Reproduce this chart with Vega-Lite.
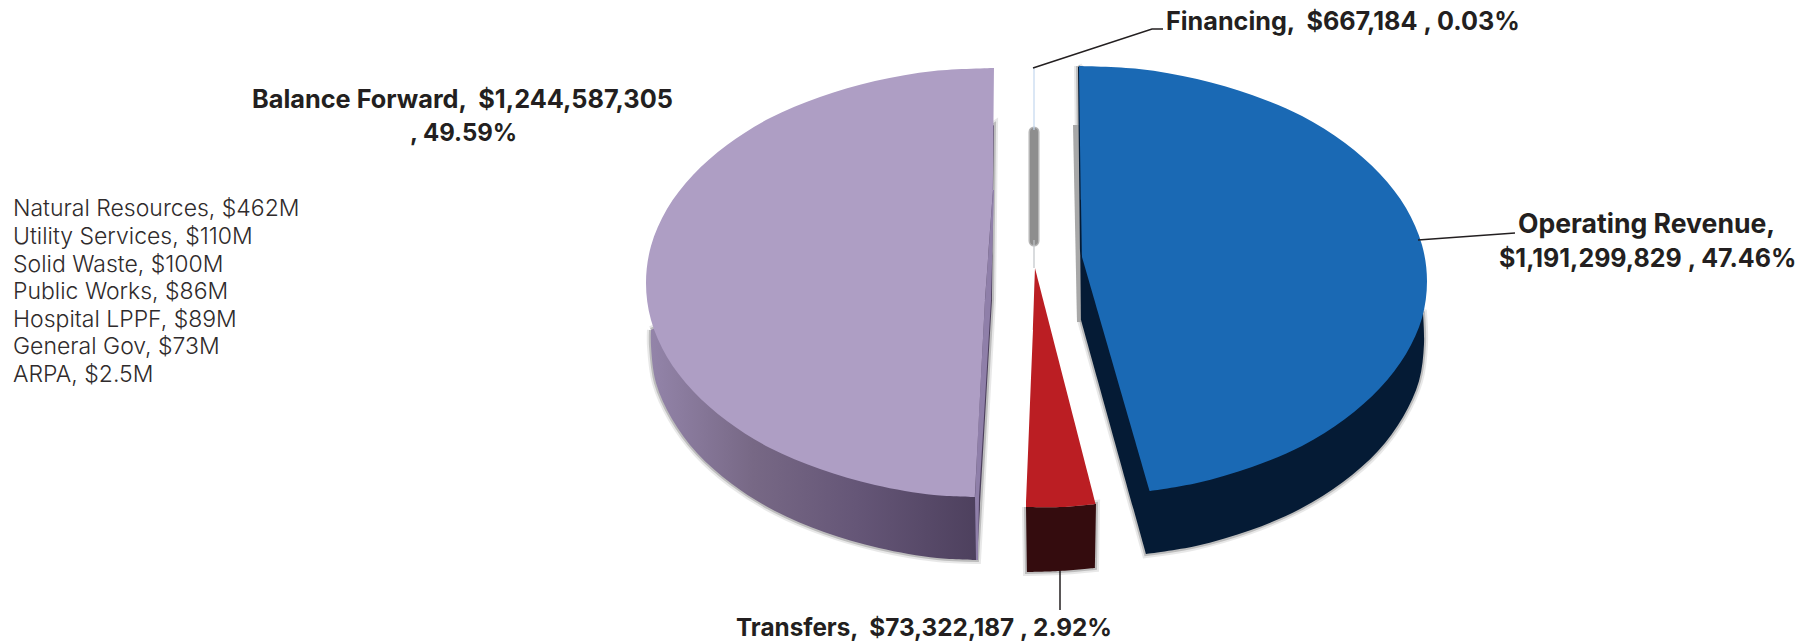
{"$schema":"https://vega.github.io/schema/vega-lite/v6.json","width":1809,"height":642,"padding":0,"autosize":{"type":"fit","contains":"padding"},"background":"white","view":{"stroke":null},
"datasets":{"shapes":[
{"p":"pside","i":1,"x":651,"y":330},{"p":"pside","i":2,"x":651,"y":330},{"p":"pside","i":3,"x":651,"y":346},{"p":"pside","i":4,"x":656,"y":383},{"p":"pside","i":5,"x":672,"y":419},{"p":"pside","i":6,"x":697,"y":453},{"p":"pside","i":7,"x":732,"y":484},{"p":"pside","i":8,"x":775,"y":511},{"p":"pside","i":9,"x":824,"y":532},{"p":"pside","i":10,"x":879,"y":548},{"p":"pside","i":11,"x":937,"y":558},{"p":"pside","i":12,"x":977,"y":560},{"p":"pside","i":13,"x":977,"y":560},{"p":"pside","i":14,"x":992,"y":300},{"p":"pside","i":15,"x":992,"y":300},{"p":"pside","i":16,"x":994,"y":125},{"p":"pside","i":17,"x":994,"y":125},{"p":"pside","i":18,"x":800,"y":250},{"p":"pside","i":19,"x":651,"y":330},
{"p":"pstrip","i":1,"x":993,"y":190},{"p":"pstrip","i":2,"x":985,"y":300},{"p":"pstrip","i":3,"x":978,"y":433},{"p":"pstrip","i":4,"x":975,"y":497},{"p":"pstrip","i":5,"x":976,"y":560},{"p":"pstrip","i":6,"x":978,"y":560},{"p":"pstrip","i":7,"x":979,"y":497},{"p":"pstrip","i":8,"x":983,"y":433},{"p":"pstrip","i":9,"x":991,"y":300},{"p":"pstrip","i":10,"x":994,"y":190},
{"p":"ptop","i":1,"x":994,"y":68},{"p":"ptop","i":2,"x":994,"y":68},{"p":"ptop","i":3,"x":934,"y":71},{"p":"ptop","i":4,"x":875,"y":81},{"p":"ptop","i":5,"x":820,"y":97},{"p":"ptop","i":6,"x":770,"y":118},{"p":"ptop","i":7,"x":727,"y":145},{"p":"ptop","i":8,"x":693,"y":175},{"p":"ptop","i":9,"x":667,"y":209},{"p":"ptop","i":10,"x":651,"y":246},{"p":"ptop","i":11,"x":646,"y":283},{"p":"ptop","i":12,"x":651,"y":320},{"p":"ptop","i":13,"x":667,"y":357},{"p":"ptop","i":14,"x":693,"y":391},{"p":"ptop","i":15,"x":727,"y":421},{"p":"ptop","i":16,"x":770,"y":448},{"p":"ptop","i":17,"x":820,"y":469},{"p":"ptop","i":18,"x":875,"y":485},{"p":"ptop","i":19,"x":934,"y":495},{"p":"ptop","i":20,"x":975,"y":497},{"p":"ptop","i":21,"x":975,"y":497},{"p":"ptop","i":22,"x":985,"y":300},{"p":"ptop","i":23,"x":985,"y":300},{"p":"ptop","i":24,"x":993,"y":190},{"p":"ptop","i":25,"x":993,"y":190},{"p":"ptop","i":26,"x":994,"y":68},{"p":"ptop","i":27,"x":994,"y":68},
{"p":"bside","i":1,"x":1078,"y":66},{"p":"bside","i":2,"x":1078,"y":66},{"p":"bside","i":3,"x":1081,"y":320},{"p":"bside","i":4,"x":1081,"y":320},{"p":"bside","i":5,"x":1146,"y":554},{"p":"bside","i":6,"x":1146,"y":554},{"p":"bside","i":7,"x":1196,"y":546},{"p":"bside","i":8,"x":1251,"y":530},{"p":"bside","i":9,"x":1300,"y":509},{"p":"bside","i":10,"x":1343,"y":482},{"p":"bside","i":11,"x":1378,"y":451},{"p":"bside","i":12,"x":1403,"y":417},{"p":"bside","i":13,"x":1419,"y":381},{"p":"bside","i":14,"x":1424,"y":344},{"p":"bside","i":15,"x":1423,"y":313},{"p":"bside","i":16,"x":1423,"y":313},{"p":"bside","i":17,"x":1250,"y":250},{"p":"bside","i":18,"x":1078,"y":66},
{"p":"btop","i":1,"x":1078,"y":66},{"p":"btop","i":2,"x":1078,"y":66},{"p":"btop","i":3,"x":1139,"y":69},{"p":"btop","i":4,"x":1197,"y":79},{"p":"btop","i":5,"x":1252,"y":95},{"p":"btop","i":6,"x":1302,"y":116},{"p":"btop","i":7,"x":1345,"y":143},{"p":"btop","i":8,"x":1380,"y":174},{"p":"btop","i":9,"x":1406,"y":208},{"p":"btop","i":10,"x":1422,"y":245},{"p":"btop","i":11,"x":1427,"y":281},{"p":"btop","i":12,"x":1422,"y":318},{"p":"btop","i":13,"x":1406,"y":354},{"p":"btop","i":14,"x":1380,"y":388},{"p":"btop","i":15,"x":1345,"y":419},{"p":"btop","i":16,"x":1302,"y":446},{"p":"btop","i":17,"x":1252,"y":467},{"p":"btop","i":18,"x":1197,"y":483},{"p":"btop","i":19,"x":1150,"y":491},{"p":"btop","i":20,"x":1150,"y":491},{"p":"btop","i":21,"x":1082,"y":257},{"p":"btop","i":22,"x":1082,"y":257},{"p":"btop","i":23,"x":1081,"y":200},{"p":"btop","i":24,"x":1081,"y":200},{"p":"btop","i":25,"x":1079,"y":66},{"p":"btop","i":26,"x":1079,"y":66},
{"p":"bshade","i":1,"x":1073,"y":125},{"p":"bshade","i":2,"x":1079,"y":125},{"p":"bshade","i":3,"x":1081,"y":322},{"p":"bshade","i":4,"x":1077,"y":322},{"p":"bshade","i":5,"x":1073,"y":125},
{"p":"rside","i":1,"x":1026,"y":507},{"p":"rside","i":2,"x":1026,"y":507},{"p":"rside","i":3,"x":1063,"y":507},{"p":"rside","i":4,"x":1096,"y":504},{"p":"rside","i":5,"x":1096,"y":504},{"p":"rside","i":6,"x":1095,"y":568},{"p":"rside","i":7,"x":1095,"y":568},{"p":"rside","i":8,"x":1060,"y":571},{"p":"rside","i":9,"x":1027,"y":572},{"p":"rside","i":10,"x":1027,"y":572},{"p":"rside","i":11,"x":1026,"y":507},{"p":"rside","i":12,"x":1026,"y":507},
{"p":"rtop","i":1,"x":1035,"y":268},{"p":"rtop","i":2,"x":1035,"y":268},{"p":"rtop","i":3,"x":1096,"y":504},{"p":"rtop","i":4,"x":1096,"y":504},{"p":"rtop","i":5,"x":1063,"y":507},{"p":"rtop","i":6,"x":1026,"y":507},{"p":"rtop","i":7,"x":1026,"y":507},{"p":"rtop","i":8,"x":1033,"y":330},{"p":"rtop","i":9,"x":1033,"y":330},{"p":"rtop","i":10,"x":1035,"y":268},{"p":"rtop","i":11,"x":1035,"y":268},
{"p":"fin1","i":1,"x":1034,"y":68},{"p":"fin1","i":2,"x":1034,"y":130},
{"p":"fin2","i":1,"x":1034,"y":240},{"p":"fin2","i":2,"x":1034,"y":268},
{"p":"bar","i":1,"x":1034,"y":132},{"p":"bar","i":2,"x":1034,"y":241},
{"p":"lead1","i":1,"x":1033,"y":68},{"p":"lead1","i":2,"x":1152,"y":29},{"p":"lead1","i":3,"x":1163,"y":29},
{"p":"lead2","i":1,"x":1418,"y":240},{"p":"lead2","i":2,"x":1515,"y":233},
{"p":"lead3","i":1,"x":1060,"y":571},{"p":"lead3","i":2,"x":1060,"y":610}
],
"labels":[
{"g":"fin","t":"Financing, \u00a0$667,184 , 0.03%","x":1166,"y":30},
{"g":"bal","t":"Balance Forward, \u00a0$1,244,587,305","x":252,"y":108},
{"g":"bal2","t":", 49.59%","x":410,"y":141},
{"g":"op","t":"Operating Revenue,","x":1518,"y":233},
{"g":"op2","t":"$1,191,299,829 , 47.46%","x":1499,"y":267},
{"g":"tr","t":"Transfers, \u00a0$73,322,187 , 2.92%","x":736,"y":636}
],
"notes":[
{"t":"Natural Resources, $462M","x":13,"y":216},
{"t":"Utility Services, $110M","x":13,"y":244},
{"t":"Solid Waste, $100M","x":13,"y":272},
{"t":"Public Works, $86M","x":13,"y":299},
{"t":"Hospital LPPF, $89M","x":13,"y":327},
{"t":"General Gov, $73M","x":13,"y":354},
{"t":"ARPA, $2.5M","x":13,"y":382}
]},
"data":{"name":"shapes"},
"encoding":{"x":{"field":"x","type":"quantitative","scale":{"domain":[0,1809],"nice":false,"zero":false},"axis":null},"y":{"field":"y","type":"quantitative","scale":{"domain":[642,0],"nice":false,"zero":false},"axis":null},"order":{"field":"i","type":"quantitative"}},
"layer":[
{"transform":[{"filter":"indexof(['pside','bside','rside'],datum.p)>=0"}],"mark":{"type":"line","interpolate":"catmull-rom","filled":true,"fill":"#9a9a9a","stroke":"#9a9a9a","strokeWidth":8,"opacity":0.22},"encoding":{"detail":{"field":"p"}}},
{"transform":[{"filter":"indexof(['pside','bside','rside'],datum.p)>=0"}],"mark":{"type":"line","interpolate":"catmull-rom","filled":true,"fill":"#8a8a8a","stroke":"#8a8a8a","strokeWidth":4,"opacity":0.45},"encoding":{"detail":{"field":"p"}}},
{"transform":[{"filter":"datum.p=='bshade'"}],"mark":{"type":"line","filled":true,"fill":"#a8a8a8","stroke":null}},
{"transform":[{"filter":"datum.p=='pside'"}],"mark":{"type":"line","interpolate":"catmull-rom","filled":true,"stroke":null,"fill":{"gradient":"linear","x1":0,"y1":0,"x2":1,"y2":0,"stops":[{"offset":0,"color":"#9384a9"},{"offset":0.3,"color":"#776885"},{"offset":0.6,"color":"#655677"},{"offset":1,"color":"#4a3d5a"}]}}},
{"transform":[{"filter":"datum.p=='pstrip'"}],"mark":{"type":"line","filled":true,"fill":"#8f7fa9","stroke":null}},
{"transform":[{"filter":"datum.p=='ptop'"}],"mark":{"type":"line","interpolate":"catmull-rom","filled":true,"fill":"#ae9ec4","stroke":null}},
{"transform":[{"filter":"datum.p=='bside'"}],"mark":{"type":"line","interpolate":"catmull-rom","filled":true,"fill":"#051b35","stroke":null}},
{"transform":[{"filter":"datum.p=='btop'"}],"mark":{"type":"line","interpolate":"catmull-rom","filled":true,"fill":"#1a69b4","stroke":null}},
{"transform":[{"filter":"datum.p=='rside'"}],"mark":{"type":"line","interpolate":"catmull-rom","filled":true,"fill":"#340c0e","stroke":null}},
{"transform":[{"filter":"datum.p=='rtop'"}],"mark":{"type":"line","interpolate":"catmull-rom","filled":true,"fill":"#bb1e23","stroke":null}},
{"transform":[{"filter":"datum.p=='bar'"}],"mark":{"type":"line","stroke":"#b5b5b5","strokeWidth":11,"strokeCap":"round"}},
{"transform":[{"filter":"datum.p=='bar'"}],"mark":{"type":"line","stroke":"#8e8e8e","strokeWidth":8,"strokeCap":"round"}},
{"transform":[{"filter":"datum.p=='fin1'"}],"mark":{"type":"line","stroke":"#c3d7ee","strokeWidth":1.2}},
{"transform":[{"filter":"datum.p=='fin2'"}],"mark":{"type":"line","stroke":"#c0c4c8","strokeWidth":1.2}},
{"transform":[{"filter":"datum.p=='lead1'"}],"mark":{"type":"line","stroke":"#231f20","strokeWidth":1.5}},
{"transform":[{"filter":"datum.p=='lead2'"}],"mark":{"type":"line","stroke":"#231f20","strokeWidth":1.5}},
{"transform":[{"filter":"datum.p=='lead3'"}],"mark":{"type":"line","stroke":"#231f20","strokeWidth":1.5}},
{"data":{"name":"labels"},"transform":[{"filter":"datum.g=='fin'"}],"mark":{"type":"text","align":"left","baseline":"alphabetic","font":"Inter","fontWeight":"bold","fontSize":25.2,"fill":"#231f20"},"encoding":{"text":{"field":"t"},"order":null}},
{"data":{"name":"labels"},"transform":[{"filter":"datum.g=='bal'"}],"mark":{"type":"text","align":"left","baseline":"alphabetic","font":"Inter","fontWeight":"bold","fontSize":25.3,"fill":"#231f20"},"encoding":{"text":{"field":"t"},"order":null}},
{"data":{"name":"labels"},"transform":[{"filter":"datum.g=='bal2'"}],"mark":{"type":"text","align":"left","baseline":"alphabetic","font":"Inter","fontWeight":"bold","fontSize":24,"fill":"#231f20"},"encoding":{"text":{"field":"t"},"order":null}},
{"data":{"name":"labels"},"transform":[{"filter":"datum.g=='op'"}],"mark":{"type":"text","align":"left","baseline":"alphabetic","font":"Inter","fontWeight":"bold","fontSize":26.6,"fill":"#231f20"},"encoding":{"text":{"field":"t"},"order":null}},
{"data":{"name":"labels"},"transform":[{"filter":"datum.g=='op2'"}],"mark":{"type":"text","align":"left","baseline":"alphabetic","font":"Inter","fontWeight":"bold","fontSize":25,"fill":"#231f20"},"encoding":{"text":{"field":"t"},"order":null}},
{"data":{"name":"labels"},"transform":[{"filter":"datum.g=='tr'"}],"mark":{"type":"text","align":"left","baseline":"alphabetic","font":"Inter","fontWeight":"bold","fontSize":24.3,"fill":"#231f20"},"encoding":{"text":{"field":"t"},"order":null}},
{"data":{"name":"notes"},"mark":{"type":"text","align":"left","baseline":"alphabetic","font":"Inter","fontWeight":300,"fontSize":23,"fill":"#2f2b2c"},"encoding":{"text":{"field":"t"},"order":null}}
]}
